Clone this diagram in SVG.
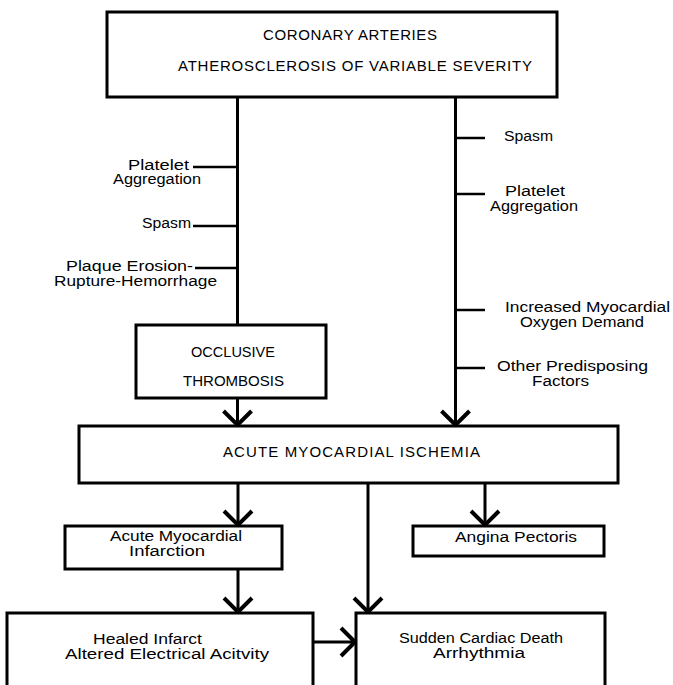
<svg xmlns="http://www.w3.org/2000/svg" width="673" height="685" viewBox="0 0 673 685">
<style>
.box{fill:#fff;stroke:#000;stroke-width:3}
.ln{fill:none;stroke:#000;stroke-width:3}
.tk{fill:none;stroke:#000;stroke-width:2.5}
text{font-family:"Liberation Sans",Arial,sans-serif;font-size:14px;fill:#000}
.cap{font-size:15px}
</style>
<defs>
<marker id="chev" markerUnits="userSpaceOnUse" viewBox="-20 -20 40 40" markerWidth="40" markerHeight="40" refX="0" refY="0" orient="auto">
<path d="M-14,-14 L0,0 L-14,14" fill="none" stroke="#000" stroke-width="4"/>
</marker>
</defs>
<rect width="673" height="685" fill="#fff"/>
<g id="connectors">
<line class="ln" x1="237.5" y1="97" x2="237.5" y2="325"/>
<line class="ln" x1="237.5" y1="398" x2="237.5" y2="425" marker-end="url(#chev)"/>
<line class="ln" x1="455.5" y1="97" x2="455.5" y2="425" marker-end="url(#chev)"/>
<line class="tk" x1="193" y1="167" x2="237" y2="167"/>
<line class="tk" x1="193" y1="226" x2="237" y2="226"/>
<line class="tk" x1="195" y1="268" x2="237" y2="268"/>
<line class="tk" x1="456" y1="138" x2="485" y2="138"/>
<line class="tk" x1="456" y1="194" x2="485" y2="194"/>
<line class="tk" x1="456" y1="310" x2="485" y2="310"/>
<line class="tk" x1="456" y1="368" x2="485" y2="368"/>
<line class="ln" x1="238" y1="484" x2="238" y2="525" marker-end="url(#chev)"/>
<line class="ln" x1="368" y1="484" x2="368" y2="612" marker-end="url(#chev)"/>
<line class="ln" x1="485" y1="484" x2="485" y2="525" marker-end="url(#chev)"/>
<line class="ln" x1="238" y1="570" x2="238" y2="612" marker-end="url(#chev)"/>
<line class="ln" x1="314" y1="642" x2="355" y2="642" marker-end="url(#chev)"/>
</g>
<g id="coronary">
<rect class="box" x="107" y="12" width="450" height="85"/>
<text class="cap" x="263" y="39.5" textLength="174" lengthAdjust="spacing">CORONARY ARTERIES</text>
<text class="cap" x="178" y="70.5" textLength="354" lengthAdjust="spacing">ATHEROSCLEROSIS OF VARIABLE SEVERITY</text>
</g>
<g id="left-factors">
<text x="128" y="169.5" textLength="61" lengthAdjust="spacingAndGlyphs">Platelet</text>
<text x="113" y="184" textLength="88" lengthAdjust="spacingAndGlyphs">Aggregation</text>
<text x="142" y="228" textLength="49" lengthAdjust="spacingAndGlyphs">Spasm</text>
<text x="66" y="271" textLength="127" lengthAdjust="spacingAndGlyphs">Plaque Erosion-</text>
<text x="54" y="285.5" textLength="163" lengthAdjust="spacingAndGlyphs">Rupture-Hemorrhage</text>
</g>
<g id="right-factors">
<text x="504" y="141" textLength="49" lengthAdjust="spacingAndGlyphs">Spasm</text>
<text x="505" y="196" textLength="60" lengthAdjust="spacingAndGlyphs">Platelet</text>
<text x="490" y="210.5" textLength="88" lengthAdjust="spacingAndGlyphs">Aggregation</text>
<text x="505" y="312" textLength="165" lengthAdjust="spacingAndGlyphs">Increased Myocardial</text>
<text x="520" y="326.5" textLength="124" lengthAdjust="spacingAndGlyphs">Oxygen Demand</text>
<text x="497" y="371" textLength="151" lengthAdjust="spacingAndGlyphs">Other Predisposing</text>
<text x="532" y="385.5" textLength="57" lengthAdjust="spacingAndGlyphs">Factors</text>
</g>
<g id="occlusive">
<rect class="box" x="136" y="325" width="190" height="73"/>
<text class="cap" x="191" y="357" textLength="84" lengthAdjust="spacingAndGlyphs">OCCLUSIVE</text>
<text class="cap" x="183" y="386" textLength="101" lengthAdjust="spacingAndGlyphs">THROMBOSIS</text>
</g>
<g id="ischemia">
<rect class="box" x="79" y="426" width="539" height="57"/>
<text class="cap" x="223" y="457" textLength="257" lengthAdjust="spacing">ACUTE MYOCARDIAL ISCHEMIA</text>
</g>
<g id="ami">
<rect class="box" x="65" y="526" width="217" height="43"/>
<text x="110" y="541" textLength="132" lengthAdjust="spacingAndGlyphs">Acute Myocardial</text>
<text x="129" y="555.5" textLength="76" lengthAdjust="spacingAndGlyphs">Infarction</text>
</g>
<g id="angina">
<rect class="box" x="413" y="526" width="191" height="30"/>
<text x="455" y="542" textLength="122" lengthAdjust="spacingAndGlyphs">Angina Pectoris</text>
</g>
<g id="healed">
<rect class="box" x="7" y="613" width="306" height="80"/>
<text x="93" y="644" textLength="109" lengthAdjust="spacingAndGlyphs">Healed Infarct</text>
<text x="65" y="659" textLength="204" lengthAdjust="spacingAndGlyphs">Altered Electrical Acitvity</text>
</g>
<g id="sudden">
<rect class="box" x="356" y="613" width="249" height="80"/>
<text x="399" y="643" textLength="164" lengthAdjust="spacingAndGlyphs">Sudden Cardiac Death</text>
<text x="433" y="657.5" textLength="92" lengthAdjust="spacingAndGlyphs">Arrhythmia</text>
</g>
</svg>
